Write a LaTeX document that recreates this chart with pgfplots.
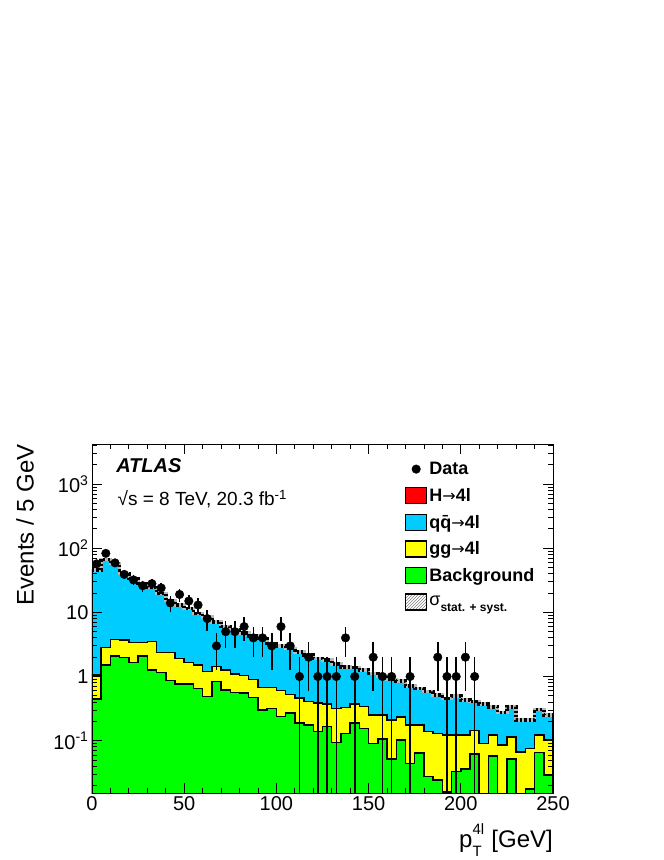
\documentclass[border=0pt]{standalone}
\usepackage{fontspec}
\setmainfont{Liberation Sans}
\newfontfamily\arrowfont{DejaVu Sans}
\usepackage{pgfplots}
\usepackage{pgfplotstable}
\pgfplotsset{compat=1.18}
\usetikzlibrary{patterns}
\definecolor{hblue}{RGB}{0,204,255}
\definecolor{hyellow}{RGB}{255,255,0}
\definecolor{hgreen}{RGB}{0,255,0}
\definecolor{hred}{RGB}{255,0,0}
\newcommand{\arr}{{\arrowfont\mdseries\fontsize{16}{16}\selectfont →}}

\pgfplotstableread{
x tot gg bg
0 0.001 0.001 0.001
0 45.6 1.05 0.45
5 67 2.85 1.51
10 58 3.8 2.08
15 40.5 3.7 1.99
20 33.9 3.36 1.64
25 28.3 3.36 2.08
30 24.5 3.5 1.26
35 19.8 2.35 1.15
40 15.2 2.35 0.86
45 13.0 1.92 0.76
50 11.5 1.64 0.76
55 9.6 1.51 0.65
60 8.4 1.19 0.485
65 7.1 1.42 0.83
70 6.0 1.26 0.62
75 5.3 1.09 0.56
80 4.8 1.04 0.55
85 4.27 0.90 0.47
90 3.94 0.68 0.30
95 3.29 0.68 0.32
100 2.99 0.60 0.24
105 2.75 0.52 0.27
110 2.43 0.46 0.19
115 2.16 0.41 0.175
120 1.92 0.39 0.14
125 1.81 0.37 0.165
130 1.57 0.32 0.094
135 1.42 0.33 0.13
140 1.39 0.37 0.19
145 1.26 0.34 0.156
150 1.12 0.25 0.091
155 1.02 0.25 0.107
160 0.90 0.21 0.052
165 0.85 0.236 0.103
170 0.71 0.176 0.044
175 0.655 0.176 0.064
180 0.58 0.138 0.0275
185 0.515 0.13 0.0244
190 0.457 0.123 0.016
195 0.497 0.123 0.033
200 0.43 0.123 0.036
205 0.405 0.143 0.062
210 0.373 0.091 0.001
215 0.338 0.123 0.058
220 0.273 0.086 0.001
225 0.338 0.115 0.052
230 0.21 0.067 0.001
235 0.21 0.076 0.0177
240 0.308 0.123 0.065
245 0.25 0.103 0.029
250 0.25 0.103 0.029
250 0.001 0.001 0.001
}\stacktab

\pgfplotstableread{
x y e
2.5 57 7.55
7.5 83 9.11
12.5 59 7.68
17.5 39 6.24
22.5 32 5.66
27.5 26 5.10
32.5 28 5.29
37.5 24 4.90
42.5 14 3.74
47.5 19 4.36
52.5 15 3.87
57.5 13 3.61
62.5 8 2.83
67.5 3 1.73
72.5 5 2.24
77.5 5 2.24
82.5 6 2.45
87.5 4 2.0
92.5 4 2.0
97.5 3 1.73
102.5 6 2.45
107.5 3 1.73
112.5 1 0.999
117.5 2 1.41
122.5 1 0.999
127.5 1 0.999
132.5 1 0.999
137.5 4 2.0
142.5 1 0.999
152.5 2 1.41
157.5 1 0.999
162.5 1 0.999
172.5 1 0.999
187.5 2 1.41
192.5 1 0.999
197.5 1 0.999
202.5 2 1.41
207.5 1 0.999
}\datatab

\begin{document}
\begin{tikzpicture}
\path[use as bounding box] (-92pt,-67pt) rectangle (572pt,793pt);
\begin{axis}[
  at={(0pt,0pt)}, anchor=south west,
  scale only axis, width=461pt, height=349pt,
  xmin=0, xmax=250, ymin=0.0153, ymax=4200,
  ymode=log,
  axis on top,
  xtick={0,50,100,150,200,250},
  xticklabels={0,50,100,150,200,250},
  minor x tick num=4,
  ytick={0.1,1,10,100,1000},
  yticklabels={10\textsuperscript{-1},1,10,10\textsuperscript{2},10\textsuperscript{3}},
  minor ytick={0.02,0.03,0.04,0.05,0.06,0.07,0.08,0.09,0.2,0.3,0.4,0.5,0.6,0.7,0.8,0.9,2,3,4,5,6,7,8,9,20,30,40,50,60,70,80,90,200,300,400,500,600,700,800,900,2000,3000,4000},
  tick align=inside, tick pos=both,
  major tick length=10pt, minor tick length=5pt,
  every tick/.style={black, line width=0.8pt},
  axis line style={line width=0.8pt},
  ticklabel style={font=\fontsize{20}{24}\selectfont},
  xlabel={p\rlap{\raisebox{-0.35em}{\fontsize{15}{15}\selectfont T}}\raisebox{0.55em}{\fontsize{15}{15}\selectfont 4l}\hspace{0.3em}[GeV]},
  xlabel style={font=\fontsize{24}{28}\selectfont, at={(axis description cs:1,-0.135)}, anchor=east, inner sep=0pt},
  ylabel={Events / 5 GeV},
  ylabel style={font=\fontsize{24}{28}\selectfont, at={(axis description cs:-0.145,1)}, anchor=east, inner sep=0pt},
  legend style={at={(axis description cs:0.672,0.96)}, anchor=north west, draw=none, fill=none,
    font=\fontsize{18}{20}\selectfont\bfseries, row sep=8.2pt, nodes={inner sep=2pt}},
  legend cell align=left,
]
\addplot[const plot, fill=hblue, draw=black, line width=1.5pt, forget plot] table[x=x, y=tot] {\stacktab};
\addplot[const plot, fill=hyellow, draw=black, line width=1.5pt, forget plot] table[x=x, y=gg] {\stacktab};
\addplot[const plot, fill=hgreen, draw=black, line width=1.5pt, forget plot] table[x=x, y=bg] {\stacktab};
\addplot[const plot, draw=gray!55, line width=3.6pt, forget plot,
  skip coords between index={0}{1}, skip coords between index={52}{53}] table[x=x, y=tot] {\stacktab};
\addplot[const plot, draw=black, line width=3.6pt, dash pattern=on 2.2pt off 2.2pt, forget plot,
  skip coords between index={0}{1}, skip coords between index={52}{53}] table[x=x, y=tot] {\stacktab};
\addplot[only marks, mark=*, mark size=4.3pt, black, forget plot,
  error bars/.cd, y dir=both, y explicit, error mark=none,
  error bar style={line width=1.5pt, black}] table[x=x, y=y, y error=e] {\datatab};

\addlegendimage{legend image code/.code={\fill[black] (10.5pt,0pt) circle (4.3pt);}}
\addlegendentry{Data}
\addlegendimage{legend image code/.code={\draw[line width=1.4pt, fill=hred] (0pt,-8pt) rectangle (21pt,8pt);}}
\addlegendentry{H\arr4l}
\addlegendimage{legend image code/.code={\draw[line width=1.4pt, fill=hblue] (0pt,-8pt) rectangle (21pt,8pt);}}
\addlegendentry{q\={q}\arr4l}
\addlegendimage{legend image code/.code={\draw[line width=1.4pt, fill=hyellow] (0pt,-8pt) rectangle (21pt,8pt);}}
\addlegendentry{gg\arr4l}
\addlegendimage{legend image code/.code={\draw[line width=1.4pt, fill=hgreen] (0pt,-8pt) rectangle (21pt,8pt);}}
\addlegendentry{Background}
\addlegendimage{legend image code/.code={\draw[line width=1.4pt, pattern=north east lines, pattern color=gray] (0pt,-8pt) rectangle (21pt,8pt);}}
\addlegendentry{{\mdseries σ}\raisebox{-0.3em}{\fontsize{12}{12}\selectfont stat. + syst.}}

\node[anchor=west, font=\fontsize{20}{24}\selectfont\bfseries\itshape] at (axis description cs:0.045,0.937) {ATLAS};
\node[anchor=west, font=\fontsize{19}{22}\selectfont] at (axis description cs:0.048,0.843) {√s = 8 TeV, 20.3 fb\textsuperscript{-1}};
\end{axis}
\end{tikzpicture}
\end{document}
